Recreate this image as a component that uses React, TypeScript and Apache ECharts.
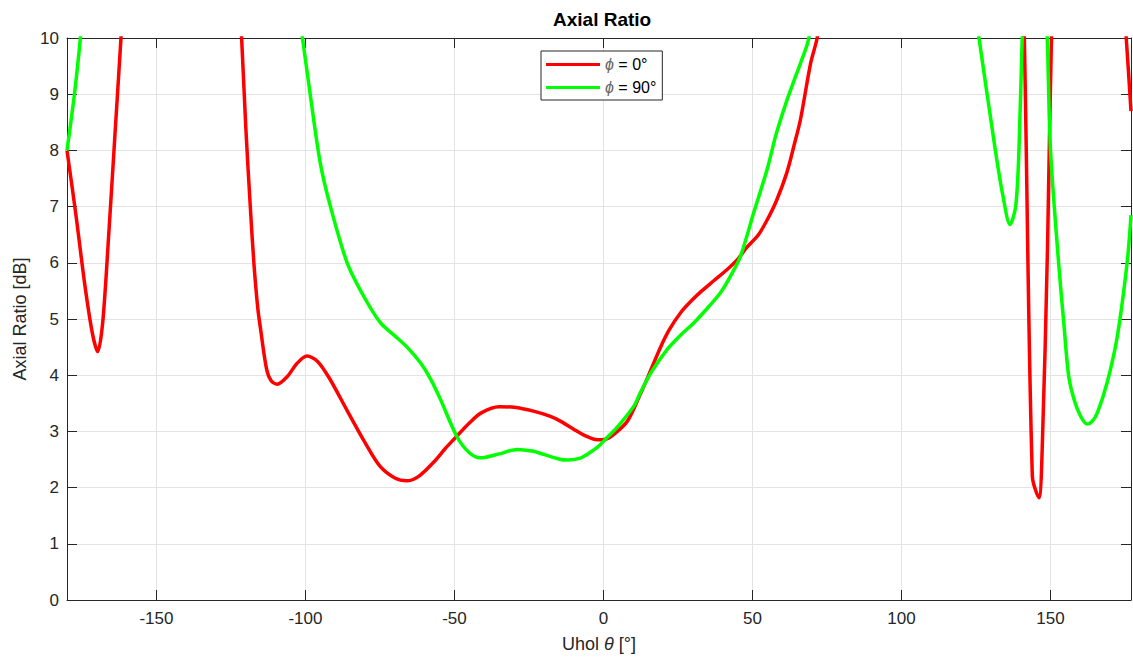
import React, { useEffect, useRef } from "react";
import * as echarts from "echarts";

const FONT = '"Liberation Sans", Arial, Helvetica, sans-serif';

const xTicks = [-150, -100, -50, 0, 50, 100, 150];

const phi0X = [-180, -177, -174, -171.5, -169.7, -168, -166, -164, -162, -159, -150, -140, -130, -124, -121.5, -120, -118.5, -117.3, -116, -115, -113, -111.5, -109.5, -106, -103, -99.5, -96, -92, -86, -80, -75, -70, -66, -62, -57, -53, -50, -45, -41, -35, -30, -23.5, -18, -14, -10, -6, -2, 0.7, 4, 8, 12, 15, 19, 22, 26, 30, 33, 37, 41.5, 45, 48, 52, 55, 58, 61.5, 64, 66.1, 69.5, 71.7, 74, 80, 100, 120, 135, 139.5, 141, 143.9, 146.1, 147.2, 149, 150.5, 152, 160, 170, 175.4, 177];
const phi0Y = [8.0, 6.85, 5.6, 4.75, 4.42, 4.95, 6.5, 8.2, 9.9, 12.5, 15, 16, 15, 12.5, 10.1, 8.4, 7.0, 6.0, 5.2, 4.8, 4.1, 3.9, 3.84, 3.98, 4.2, 4.34, 4.25, 3.95, 3.37, 2.8, 2.38, 2.17, 2.12, 2.2, 2.45, 2.7, 2.87, 3.15, 3.33, 3.44, 3.43, 3.36, 3.27, 3.17, 3.04, 2.92, 2.85, 2.86, 2.97, 3.18, 3.62, 3.98, 4.48, 4.8, 5.12, 5.35, 5.5, 5.68, 5.88, 6.06, 6.27, 6.5, 6.77, 7.1, 7.6, 8.1, 8.55, 9.55, 10.0, 10.8, 12.5, 18, 17, 14, 12, 10.5, 2.2, 1.82, 2.68, 6.3, 10.5, 12, 16, 14, 10, 8.7];

const phi90X = [-180, -177.5, -175.5, -172, -160, -140, -120, -108, -101, -98.3, -95, -91.6, -86, -80.4, -74.8, -70, -65.9, -61.4, -58, -54.7, -49.1, -45, -41.3, -35, -29, -24, -20, -15, -12.2, -8, -5.5, -2, 1.2, 5, 10.2, 12.4, 16, 21.4, 26, 30.3, 35, 39.3, 43, 46, 50.4, 54.9, 58, 61.6, 64, 66.1, 68.9, 72, 90, 110, 122, 126, 131.5, 134, 136.4, 138.3, 139.4, 140.5, 142, 145, 148, 148.9, 150, 152.8, 154.5, 156.1, 158, 160.1, 162.3, 164, 165.7, 169, 172.4, 175.7, 177];
const phi90Y = [8.0, 9.0, 10.0, 12, 17, 19, 16, 12.5, 10.0, 8.96, 7.77, 7.0, 6.0, 5.4, 4.93, 4.7, 4.5, 4.22, 3.93, 3.57, 2.9, 2.62, 2.53, 2.6, 2.68, 2.65, 2.59, 2.51, 2.49, 2.52, 2.59, 2.72, 2.89, 3.1, 3.45, 3.69, 4.05, 4.46, 4.72, 4.93, 5.2, 5.47, 5.8, 6.12, 6.89, 7.66, 8.3, 8.9, 9.25, 9.55, 10.0, 11.5, 16, 15, 11.5, 10, 8.0, 7.2, 6.68, 7.0, 8.0, 10, 12, 13, 11, 10, 8, 5.94, 4.9, 3.98, 3.55, 3.27, 3.13, 3.18, 3.33, 3.87, 4.69, 6.0, 6.85];

const seriesNames = ["ϕ = 0°", "ϕ = 90°"];
const seriesColors = ["#ff0000", "#00ff00"];

const AXIS_COLOR = "#262626";
const GRID_COLOR = "#e3e3e3";

function pairs(xs: number[], ys: number[]) {
  return xs.map((x, i) => [x, ys[i]]);
}

export default function App() {
  const ref = useRef<HTMLDivElement>(null);

  useEffect(() => {
    if (!ref.current) return;
    const chart = echarts.init(ref.current, null, { renderer: "svg" });
    const baseLine = { show: true, onZero: false, lineStyle: { color: AXIS_COLOR, width: 1 } };
    const option: any = {
      animation: false,
      backgroundColor: "#ffffff",
      title: {
        text: "Axial Ratio",
        left: 553,
        top: 10,
        padding: 0,
        textStyle: { fontFamily: FONT, fontSize: 19, fontWeight: "bold", color: "#000" },
      },
      legend: {
        left: 541,
        top: 51,
        orient: "vertical",
        icon: "rect",
        itemWidth: 54,
        itemHeight: 3,
        itemGap: 6,
        padding: [5, 6, 4, 5],
        borderColor: AXIS_COLOR,
        borderWidth: 1,
        backgroundColor: "#fff",
        data: seriesNames,
        formatter: (name: string) => name.replace("ϕ", "{i|ϕ}"),
        textStyle: {
          fontFamily: FONT,
          fontSize: 16,
          color: "#000",
          lineHeight: 17,
          rich: { i: { fontFamily: FONT, fontSize: 16, fontStyle: "italic", color: "#666" } },
        },
      },
      grid: { left: 67, right: 2, top: 38, bottom: 57, containLabel: false },
      xAxis: [
        {
          type: "value",
          min: -180,
          max: 177,
          position: "bottom",
          name: "Uhol {i|θ} [°]",
          nameLocation: "middle",
          nameGap: 35,
          nameTextStyle: {
            fontFamily: FONT,
            fontSize: 18,
            color: AXIS_COLOR,
            rich: { i: { fontFamily: FONT, fontSize: 18, fontStyle: "italic", color: AXIS_COLOR } },
          },
          axisLine: baseLine,
          axisTick: { show: true, inside: true, length: 10, customValues: xTicks, lineStyle: { color: AXIS_COLOR } },
          axisLabel: { customValues: xTicks, margin: 10, fontFamily: FONT, fontSize: 17, color: AXIS_COLOR },
          splitLine: { show: true, lineStyle: { color: GRID_COLOR, width: 1 } },
        },
        {
          type: "value",
          min: -180,
          max: 177,
          position: "top",
          axisLine: baseLine,
          axisTick: { show: true, inside: true, length: 10, customValues: xTicks, lineStyle: { color: AXIS_COLOR } },
          axisLabel: { show: false },
          splitLine: { show: false },
        },
      ],
      yAxis: [
        {
          type: "value",
          min: 0,
          max: 10,
          interval: 1,
          position: "left",
          name: "Axial Ratio [dB]",
          nameLocation: "middle",
          nameGap: 37,
          nameTextStyle: { fontFamily: FONT, fontSize: 18, color: AXIS_COLOR },
          axisLine: baseLine,
          axisTick: { show: true, inside: true, length: 10, lineStyle: { color: AXIS_COLOR } },
          axisLabel: { margin: 8, fontFamily: FONT, fontSize: 17, color: AXIS_COLOR },
          splitLine: { show: true, lineStyle: { color: GRID_COLOR, width: 1 } },
        },
        {
          type: "value",
          min: 0,
          max: 10,
          interval: 1,
          position: "right",
          axisLine: baseLine,
          axisTick: { show: true, inside: true, length: 10, lineStyle: { color: AXIS_COLOR } },
          axisLabel: { show: false },
          splitLine: { show: false },
        },
      ],
      series: [
        {
          type: "line",
          name: seriesNames[0],
          data: pairs(phi0X, phi0Y),
          xAxisIndex: 0,
          yAxisIndex: 0,
          symbol: "none",
          smooth: 0.3,
          clip: true,
          lineStyle: { color: seriesColors[0], width: 3.5 },
          itemStyle: { color: seriesColors[0] },
        },
        {
          type: "line",
          name: seriesNames[1],
          data: pairs(phi90X, phi90Y),
          xAxisIndex: 0,
          yAxisIndex: 0,
          symbol: "none",
          smooth: 0.3,
          clip: true,
          lineStyle: { color: seriesColors[1], width: 3.5 },
          itemStyle: { color: seriesColors[1] },
        },
      ],
    };
    chart.setOption(option);
    return () => chart.dispose();
  }, []);

  return (
    <div
      ref={ref}
      style={{ position: "absolute", left: 0, top: 0, width: 1133, height: 658, background: "#fff" }}
    />
  );
}
